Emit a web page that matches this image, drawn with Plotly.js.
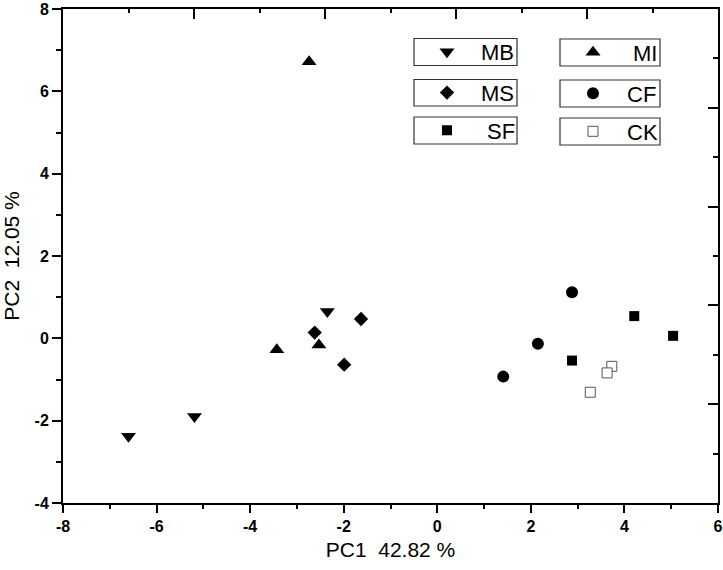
<!DOCTYPE html>
<html>
<head>
<meta charset="utf-8">
<script src="https://cdn.plot.ly/plotly-3.0.1.min.js"></script>
<style>
  body { margin: 0; background: #fff; }
  #myDiv { width: 723px; height: 570px; }
</style>
</head>
<body>
<div id="myDiv"></div>
<script>
// PCA scores
let groupNames = ["MB", "MI", "MS", "CF", "SF", "CK"]

let mbX = [-6.60, -5.19, -2.35]
let mbY = [-2.38, -1.90, 0.65]
let miX = [-3.43, -2.53, -2.74]
let miY = [-0.28, -0.16, 6.72]
let msX = [-2.62, -1.63, -1.99]
let msY = [0.14, 0.47, -0.64]
let cfX = [1.41, 2.15, 2.88]
let cfY = [-0.93, -0.13, 1.12]
let sfX = [2.88, 4.21, 5.04]
let sfY = [-0.54, 0.54, 0.06]
let ckX = [3.27, 3.73, 3.63]
let ckY = [-1.31, -0.68, -0.84]

// tick labels (plain hyphen like the original)
let xTickVals = [-8, -6, -4, -2, 0, 2, 4, 6]
let xTickText = ["-8", "-6", "-4", "-2", "0", "2", "4", "6"]
let yTickVals = [-4, -2, 0, 2, 4, 6, 8]
let yTickText = ["-4", "-2", "0", "2", "4", "6", "8"]

let xTitle = "PC1\u00a0\u00a042.82 %"
let yTitle = "PC2\u00a0\u00a012.05 %"

// plot area in pixels
const M = {l: 63, r: 5, t: 9, b: 67}
const W = 723, H = 570
const PW = W - M.l - M.r
const PH = H - M.t - M.b
function px2x(px){ return (px - M.l) / PW }
function px2y(py){ return 1 - (py - M.t) / PH }

const fontFam = "Liberation Sans, Arial, sans-serif"
const tickFont = {family: fontFam, size: 16, weight: 'bold', color: '#000000'}

function makeTrace(x, y, name, symbol, size, legendId, extra){
	let t = {
		x: x,
		y: y,
		name: name,
		type: 'scatter',
		mode: 'markers',
		legend: legendId,
		marker: {symbol: symbol, size: size, color: 'black', line: {width: 0}},
		hoverinfo: 'x+y+name'
	}
	if (extra) t.marker = Object.assign(t.marker, extra)
	return t
}

var data = [
	makeTrace(mbX, mbY, groupNames[0], 'triangle-down', 13, 'legend'),
	makeTrace(miX, miY, groupNames[1], 'triangle-up', 13, 'legend2'),
	makeTrace(msX, msY, groupNames[2], 'diamond', 11, 'legend3'),
	makeTrace(cfX, cfY, groupNames[3], 'circle', 12, 'legend4'),
	makeTrace(sfX, sfY, groupNames[4], 'square', 10, 'legend5'),
	makeTrace(ckX, ckY, groupNames[5], 'square', 10, 'legend6', {color: 'white', line: {width: 1, color: '#555'}}),
	// empty trace so the top / right frame axes exist
	{x: [], y: [], xaxis: 'x2', yaxis: 'y2', showlegend: false, type: 'scatter', mode: 'markers'}
]

// legend boxes (pixels): [left, top, right, bottom, text offset from left]
let boxes = [
	[414, 38.5, 517, 65.5, 68],
	[560, 39, 660, 66, 74],
	[414, 79.5, 517, 106, 68],
	[560, 80, 660, 107, 68],
	[414, 117, 517, 144, 74],
	[560, 118, 660, 145, 68]
]
const symOffset = 32

let shapesArray = []
let legends = {}
for (let i = 0; i < boxes.length; i++){
	let b = boxes[i]
	shapesArray.push({
		type: 'rect', xref: 'paper', yref: 'paper',
		x0: px2x(b[0]), x1: px2x(b[2]), y0: px2y(b[3]), y1: px2y(b[1]),
		line: {color: '#333', width: 1.2},
		fillcolor: 'rgba(0,0,0,0)',
		layer: 'above'
	})
	// measured: symbol centre = left + w/2 + 4, text start = left + w + 11
	let w = 2 * (b[4] - symOffset - 7)
	let d = symOffset - 4 - w / 2
	let key = (i == 0) ? 'legend' : `legend${i + 1}`
	legends[key] = {
		x: px2x(b[0] + d), y: px2y((b[1] + b[3]) / 2),
		xref: 'paper', yref: 'paper',
		xanchor: 'left', yanchor: 'middle',
		bgcolor: 'rgba(0,0,0,0)', borderwidth: 0,
		itemwidth: w,
		font: {family: fontFam, size: 22, color: 'black'}
	}
}

var layout = Object.assign({
	width: W, height: H,
	margin: M,
	paper_bgcolor: 'white',
	plot_bgcolor: 'white',
	showlegend: true,
	xaxis: {
		range: [-8, 6],
		tickmode: 'array', tickvals: xTickVals, ticktext: xTickText,
		showgrid: false, zeroline: false,
		showline: true, linecolor: 'black', linewidth: 2,
		ticks: 'outside', ticklen: 8, tickwidth: 2, tickcolor: 'black',
		minor: {dtick: 1, tick0: 0, ticks: 'outside', ticklen: 4, tickwidth: 2, tickcolor: 'black', showgrid: false},
		tickfont: tickFont,
		title: {text: xTitle, font: {family: fontFam, size: 21, color: 'black'}, standoff: 8}
	},
	yaxis: {
		range: [-4, 8],
		tickmode: 'array', tickvals: yTickVals, ticktext: yTickText,
		showgrid: false, zeroline: false,
		showline: true, linecolor: 'black', linewidth: 2,
		ticks: 'outside', ticklen: 9, tickwidth: 2, tickcolor: 'black',
		minor: {dtick: 1, tick0: 0, ticks: 'outside', ticklen: 5, tickwidth: 2, tickcolor: 'black', showgrid: false},
		tickfont: tickFont,
		title: {text: yTitle, font: {family: fontFam, size: 21, color: 'black'}, standoff: 12}
	},
	// top and right frame, own tick spacing like the original
	xaxis2: {
		overlaying: 'x', side: 'top', range: [0, 10], dtick: 2, tick0: 0,
		showgrid: false, zeroline: false, showticklabels: false,
		showline: true, linecolor: 'black', linewidth: 2,
		ticks: 'inside', ticklen: 10, tickwidth: 2, tickcolor: 'black',
		minor: {dtick: 1, ticks: 'inside', ticklen: 4, tickwidth: 2, tickcolor: 'black', showgrid: false}
	},
	yaxis2: {
		overlaying: 'y', side: 'right', range: [0, 10], dtick: 2, tick0: 0,
		showgrid: false, zeroline: false, showticklabels: false,
		showline: true, linecolor: 'black', linewidth: 2,
		ticks: 'inside', ticklen: 10, tickwidth: 2, tickcolor: 'black',
		minor: {dtick: 1, ticks: 'inside', ticklen: 5, tickwidth: 2, tickcolor: 'black', showgrid: false}
	},
	shapes: shapesArray
}, legends)

Plotly.newPlot('myDiv', data, layout, {displayModeBar: false, staticPlot: true})
</script>
</body>
</html>
